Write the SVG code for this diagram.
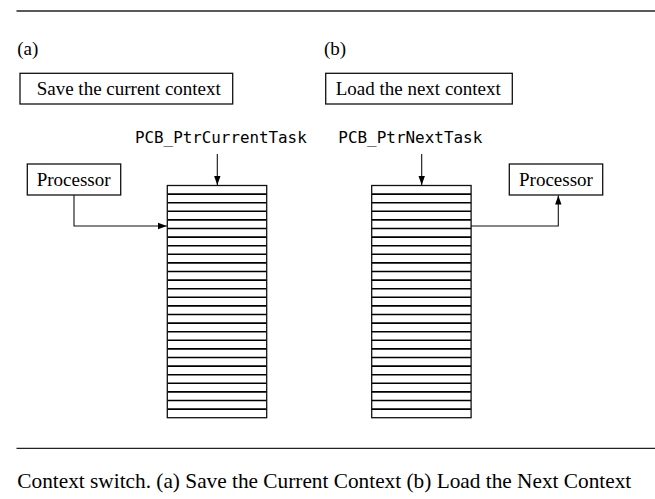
<svg xmlns="http://www.w3.org/2000/svg" width="655" height="499" viewBox="0 0 655 499">
<style>
.serif{font-family:"Liberation Serif","Times New Roman",serif;font-size:19px;fill:#000}
.mono{font-family:"DejaVu Sans Mono","Liberation Mono",monospace;font-size:16px;fill:#000}
.box{fill:#fff;stroke:#111;stroke-width:1.3}
.rule{stroke:#222;stroke-width:1.3}
.row{stroke:#000;stroke-width:1.6}
.conn{fill:none;stroke:#111;stroke-width:1.1}
</style>
<defs>
<marker id="arr" markerUnits="userSpaceOnUse" markerWidth="10" markerHeight="8" refX="9" refY="4" orient="auto">
<path d="M0,0.8 L9,4 L0,7.2 Z" fill="#000"/>
</marker>
<g id="rows">
<line class="row" x1="0" y1="8.6" x2="100" y2="8.6"/>
<line class="row" x1="0" y1="17.2" x2="100" y2="17.2"/>
<line class="row" x1="0" y1="25.8" x2="100" y2="25.8"/>
<line class="row" x1="0" y1="34.4" x2="100" y2="34.4"/>
<line class="row" x1="0" y1="43" x2="100" y2="43"/>
<line class="row" x1="0" y1="51.6" x2="100" y2="51.6"/>
<line class="row" x1="0" y1="60.2" x2="100" y2="60.2"/>
<line class="row" x1="0" y1="68.8" x2="100" y2="68.8"/>
<line class="row" x1="0" y1="77.4" x2="100" y2="77.4"/>
<line class="row" x1="0" y1="86" x2="100" y2="86"/>
<line class="row" x1="0" y1="94.6" x2="100" y2="94.6"/>
<line class="row" x1="0" y1="103.2" x2="100" y2="103.2"/>
<line class="row" x1="0" y1="111.8" x2="100" y2="111.8"/>
<line class="row" x1="0" y1="120.4" x2="100" y2="120.4"/>
<line class="row" x1="0" y1="129" x2="100" y2="129"/>
<line class="row" x1="0" y1="137.6" x2="100" y2="137.6"/>
<line class="row" x1="0" y1="146.2" x2="100" y2="146.2"/>
<line class="row" x1="0" y1="154.8" x2="100" y2="154.8"/>
<line class="row" x1="0" y1="163.4" x2="100" y2="163.4"/>
<line class="row" x1="0" y1="172" x2="100" y2="172"/>
<line class="row" x1="0" y1="180.6" x2="100" y2="180.6"/>
<line class="row" x1="0" y1="189.2" x2="100" y2="189.2"/>
<line class="row" x1="0" y1="197.8" x2="100" y2="197.8"/>
<line class="row" x1="0" y1="206.4" x2="100" y2="206.4"/>
<line class="row" x1="0" y1="215" x2="100" y2="215"/>
<line class="row" x1="0" y1="223.6" x2="100" y2="223.6"/>
<rect class="box" fill="none" style="fill:none" x="0" y="0" width="100" height="232.2"/>
</g>
</defs>

<line class="rule" x1="16.5" y1="11" x2="655" y2="11"/>
<line class="rule" x1="16.5" y1="448.3" x2="655" y2="448.3"/>

<text class="serif" x="17.3" y="55">(a)</text>
<text class="serif" x="324" y="55">(b)</text>

<g id="save-box">
<rect class="box" x="20" y="73.3" width="212.7" height="30.7"/>
<text class="serif" x="36.7" y="95">Save the current context</text>
</g>
<g id="load-box">
<rect class="box" x="325.7" y="73.3" width="186.6" height="30.7"/>
<text class="serif" x="335.7" y="95">Load the next context</text>
</g>

<g id="label-current">
<text class="mono" x="135" y="143.3" textLength="171.7" lengthAdjust="spacingAndGlyphs">PCB_PtrCurrentTask</text>
</g>
<g id="label-next">
<text class="mono" x="338.3" y="143.3" textLength="144" lengthAdjust="spacingAndGlyphs">PCB_PtrNextTask</text>
</g>

<g id="processor-a">
<rect class="box" x="27.3" y="164" width="93.4" height="31"/>
<text class="serif" x="36.7" y="185.5">Processor</text>
</g>
<g id="processor-b">
<rect class="box" x="509.3" y="164" width="93.4" height="31"/>
<text class="serif" x="519" y="185.5">Processor</text>
</g>

<g id="stack-a">
<use href="#rows" transform="translate(167.3,185.5) scale(0.994,1)"/>
</g>
<g id="stack-b">
<use href="#rows" transform="translate(371.7,185.5) scale(0.994,1)"/>
</g>

<g id="connectors">
<line class="conn" x1="217.3" y1="154" x2="217.3" y2="185" marker-end="url(#arr)"/>
<line class="conn" x1="421.7" y1="154" x2="421.7" y2="185" marker-end="url(#arr)"/>
<polyline class="conn" points="74,195 74,226 166.8,226" marker-end="url(#arr)"/>
<polyline class="conn" points="471,226 558.3,226 558.3,195.5" marker-end="url(#arr)"/>
</g>

<text x="17.3" y="488.3" textLength="614" lengthAdjust="spacingAndGlyphs" style="font-family:'Liberation Serif','Times New Roman',serif;font-size:21px;fill:#000">Context switch. (a) Save the Current Context (b) Load the Next Context</text>
</svg>
